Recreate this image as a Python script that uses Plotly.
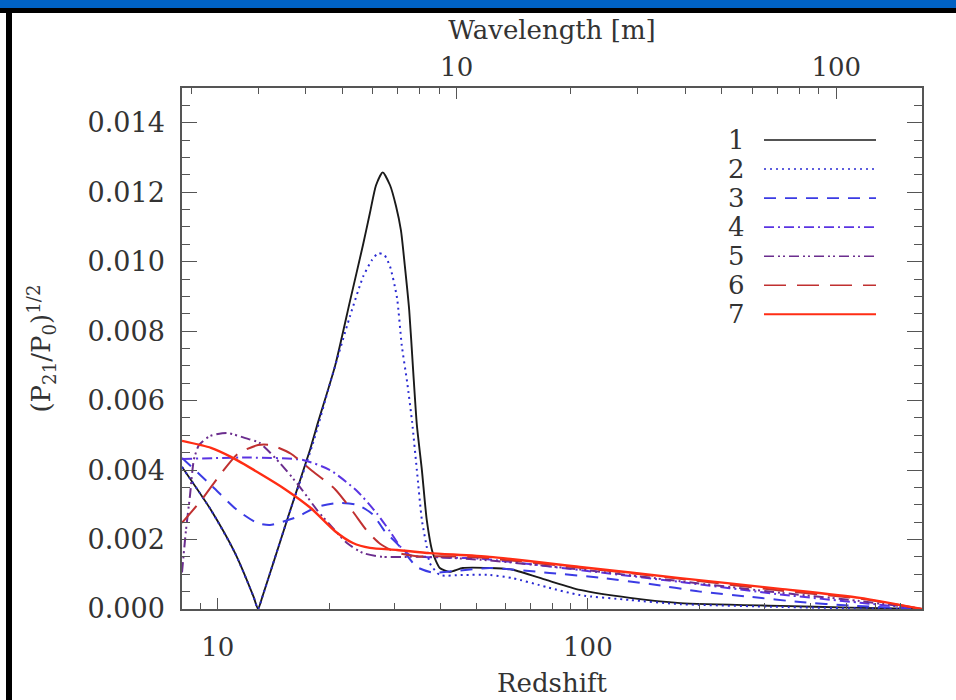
import numpy as np
import plotly.graph_objects as go

# ---------------- data ----------------
# values are in units of 1e-3 of (P21/P0)^(1/2)
z1 = [8.0, 9.58, 11.13, 12.5, 12.84, 13.2, 15.48, 17.74, 18.66, 20.74, 22.74, 24.7, 25.76, 26.76, 27.9, 29.2,
      30.3, 31.25, 32.0, 32.9, 33.7, 34.5, 35.6, 36.7, 38.1, 39.8, 42.3, 45.9, 54.3, 62.6, 77.5, 95.2, 130,
      177.7, 331, 511, 800]
v1 = [4.09, 2.85, 1.61, 0.34, 0.0, 0.36, 2.65, 4.58, 5.38, 7.0, 8.85, 10.5, 11.4, 12.2, 12.57, 12.2,
      11.6, 10.9, 9.9, 8.6, 6.9, 5.3, 4.0, 2.56, 1.61, 1.18, 1.07, 1.18, 1.18, 1.13, 0.83, 0.55, 0.32,
      0.17, 0.09, 0.04, 0.0]

z2 = [8.0, 9.58, 11.13, 12.5, 12.84, 13.2, 15.48, 18.07, 20.1, 22.74, 24.7, 26.1, 27.1, 28.2, 29.2, 30.5, 31.4,
      32.47, 33.5, 34.5, 35.6, 36.7, 37.4, 39.8, 45.9, 54.3, 62.6, 77.5, 95.2, 130, 177.7, 331, 511, 800]
v2 = [4.09, 2.85, 1.61, 0.34, 0.0, 0.36, 2.65, 4.77, 6.5, 8.42, 9.57, 10.05, 10.24, 10.19, 9.86, 8.95, 7.6,
      6.54, 5.38, 4.0, 2.56, 1.78, 1.32, 0.98, 0.98, 0.98, 0.89, 0.63, 0.40, 0.26, 0.14, 0.06, 0.02, 0.0]

z3 = [8.0, 9.70, 11.27, 12.76, 13.83, 16.37, 18.54, 21.0, 23.77, 26.25, 28.2, 31.1, 34.5, 38.1, 44.3,
      54.3, 78.8, 107.7, 147.2, 201, 274.3, 375, 511, 800]
v3 = [4.35, 3.51, 2.85, 2.48, 2.42, 2.65, 2.94, 3.05, 3.0, 2.72, 2.25, 1.79, 1.21, 1.05, 1.10,
      1.18, 1.04, 0.9, 0.72, 0.5, 0.35, 0.2, 0.1, 0.0]

z4 = [8.0, 12.2, 16.99, 20.1, 23.77, 26.9, 29.2, 31.1, 33.1, 36.3, 42.3, 51.1, 95.2, 177.5, 330.7, 544, 800]
v4 = [4.32, 4.36, 4.29, 4.0, 3.4, 2.75, 2.23, 1.8, 1.55, 1.5, 1.48, 1.45, 1.12, 0.78, 0.42, 0.18, 0.0]

z5 = [8.0, 8.2, 8.41, 8.61, 8.89, 9.53, 10.58, 11.87, 12.97, 14.72, 16.67, 18.54, 20.1, 22.33, 24.7,
      27.9, 31.6, 37.4, 51.1, 95.2, 177.5, 330.7, 544, 800]
v5 = [1.05, 2.27, 3.28, 4.29, 4.72, 4.98, 5.07, 4.92, 4.78, 4.20, 3.51, 2.85, 2.42, 1.9, 1.61,
      1.5, 1.5, 1.5, 1.42, 1.14, 0.8, 0.47, 0.23, 0.0]

z6 = [8.0, 9.03, 10.0, 11.33, 12.84, 13.92, 15.76, 17.86, 20.74, 23.18, 25.3, 27.43, 30.5, 34.5, 42.3,
      51.1, 95.2, 177.5, 330.7, 544, 800]
v6 = [2.48, 3.14, 3.78, 4.47, 4.72, 4.72, 4.47, 4.0, 3.45, 2.8, 2.25, 1.88, 1.62, 1.52, 1.52,
      1.48, 1.19, 0.87, 0.53, 0.3, 0.0]

z7 = [8.0, 9.58, 10.85, 13.08, 15.19, 17.86, 20.74, 23.18, 25.76, 30.5, 37.4, 54.3, 95.2, 177.5, 330.7, 544, 800]
v7 = [4.84, 4.64, 4.38, 3.88, 3.45, 2.9, 2.24, 1.9, 1.76, 1.7, 1.61, 1.5, 1.21, 0.89, 0.58, 0.32, 0.0]

series_labels = ["1", "2", "3", "4", "5", "6", "7"]
y_ticks = [0.000, 0.002, 0.004, 0.006, 0.008, 0.010, 0.012, 0.014]
x_ticks = [10, 100]
wl_ticks = [10, 100]
z_range = [8, 800]
y_range = [0.0, 0.015]
lambda21 = 0.21  # metres

# ---------------- styling ----------------
FONT = "DejaVu Serif"
TXT = "#333333"
AX = "#555555"
colors = ["#1a1a1a", "#2a2ad2", "#3b3be4", "#5a34e2", "#6b2d8e", "#c03030", "#ff2d14"]
dashes = ["solid", "2px,4px", "12px,9px", "10px,4px,2px,4px", "10px,4px,2px,3px,2px,4px", "22px,11px", "solid"]
widths = [1.9, 2.0, 2.0, 2.0, 2.0, 2.0, 2.4]

Z = [z1, z2, z3, z4, z5, z6, z7]
V = [v1, v2, v3, v4, v5, v6, v7]

fig = go.Figure()
for i in range(7):
    fig.add_trace(go.Scatter(
        x=Z[i], y=[v * 1e-3 for v in V[i]], mode="lines", name=series_labels[i],
        line=dict(color=colors[i], dash=dashes[i], width=widths[i], shape="spline", smoothing=0.6),
        showlegend=False, hoverinfo="skip", cliponaxis=True))

# invisible trace that carries the wavelength (top) axis
fig.add_trace(go.Scatter(
    x=[lambda21 * (1 + z) for z in z1], y=[v * 1e-3 for v in v1], xaxis="x2", yaxis="y",
    mode="lines", line=dict(width=0), opacity=0, showlegend=False, hoverinfo="skip"))

# plot-area pixel geometry
L, R, T, B = 182, 922, 88, 609
W, H = 956, 700
pw, ph = R - L, B - T


def px(xp):
    return (xp - L) / pw


def py(yp):
    return (B - yp) / ph


minor_z = [9, 20, 30, 40, 50, 60, 70, 80, 90, 200, 300, 400, 500, 600, 700]
minor_wl = [2, 3, 4, 5, 6, 7, 8, 9, 20, 30, 40, 50, 60, 70, 80, 90]

fig.update_layout(
    width=W, height=H,
    margin=dict(l=L, r=W - R, t=T, b=H - B, pad=0, autoexpand=False),
    paper_bgcolor="white", plot_bgcolor="white",
    font=dict(family=FONT, color=TXT, size=26),
    xaxis=dict(
        type="log", range=[np.log10(z_range[0]), np.log10(z_range[1])], automargin=False,
        tickmode="array", tickvals=x_ticks, ticktext=[str(t) for t in x_ticks],
        ticks="inside", ticklen=11, tickwidth=1.4, tickcolor=AX,
        minor=dict(tickmode="array", tickvals=minor_z, ticks="inside", ticklen=6, tickwidth=1.2, tickcolor=AX),
        showline=True, linecolor=AX, linewidth=1.5, mirror=False, showgrid=False, zeroline=False,
        tickfont=dict(family=FONT, size=26, color=TXT), ticklabelstandoff=14,
        title=dict(text="Redshift", font=dict(family=FONT, size=26, color=TXT), standoff=13),
    ),
    xaxis2=dict(
        type="log", overlaying="x", side="top", automargin=False,
        range=[np.log10(lambda21 * (1 + z_range[0])), np.log10(lambda21 * (1 + z_range[1]))],
        tickmode="array", tickvals=wl_ticks, ticktext=[str(t) for t in wl_ticks],
        ticks="inside", ticklen=11, tickwidth=1.4, tickcolor=AX,
        minor=dict(tickmode="array", tickvals=minor_wl, ticks="inside", ticklen=6, tickwidth=1.2, tickcolor=AX),
        showline=True, linecolor=AX, linewidth=1.5, showgrid=False, zeroline=False,
        tickfont=dict(family=FONT, size=26, color=TXT), ticklabelstandoff=0,
        title=dict(text="Wavelength [m]", font=dict(family=FONT, size=26, color=TXT), standoff=5),
    ),
    yaxis=dict(
        range=y_range, automargin=False, tickmode="array", tickvals=y_ticks,
        ticktext=[f"{t:.3f}" for t in y_ticks],
        ticks="inside", ticklen=15, tickwidth=1.4, tickcolor=AX,
        minor=dict(dtick=0.0005, ticks="inside", ticklen=8, tickwidth=1.2, tickcolor=AX),
        showline=True, linecolor=AX, linewidth=1.5, mirror="ticks", showgrid=False, zeroline=False,
        tickfont=dict(family=FONT, size=27, color=TXT), ticklabelstandoff=10,
        title=dict(text="(P<sub>21</sub>/P<sub>0</sub>)<sup>1/2</sup>",
                   font=dict(family=FONT, size=26, color=TXT), standoff=29),
    ),
)

shapes = []
annotations = []
# legend (numbers on the left of line samples)
leg_y0, leg_dy = 140, 29.05
for i in range(7):
    yy = py(leg_y0 + i * leg_dy)
    shapes.append(dict(type="line", xref="paper", yref="paper", x0=px(764), x1=px(876), y0=yy, y1=yy,
                       line=dict(color=colors[i], dash=dashes[i], width=widths[i] * 0.8)))
    annotations.append(dict(xref="paper", yref="paper", x=px(736), y=yy, text=series_labels[i],
                            showarrow=False, xanchor="center", yanchor="middle",
                            font=dict(family=FONT, size=26, color=TXT)))

# window frame (blue bar, black rule and left black bar)
shapes.append(dict(type="rect", xref="paper", yref="paper", x0=px(0), x1=px(W), y0=py(8), y1=py(0),
                   fillcolor="#0062c4", line=dict(width=0), layer="above"))
shapes.append(dict(type="rect", xref="paper", yref="paper", x0=px(0), x1=px(W), y0=py(13), y1=py(8),
                   fillcolor="#000000", line=dict(width=0), layer="above"))
shapes.append(dict(type="rect", xref="paper", yref="paper", x0=px(6), x1=px(12), y0=py(H), y1=py(8),
                   fillcolor="#000000", line=dict(width=0), layer="above"))

fig.update_layout(shapes=shapes, annotations=annotations)
fig.write_html("out.html")
